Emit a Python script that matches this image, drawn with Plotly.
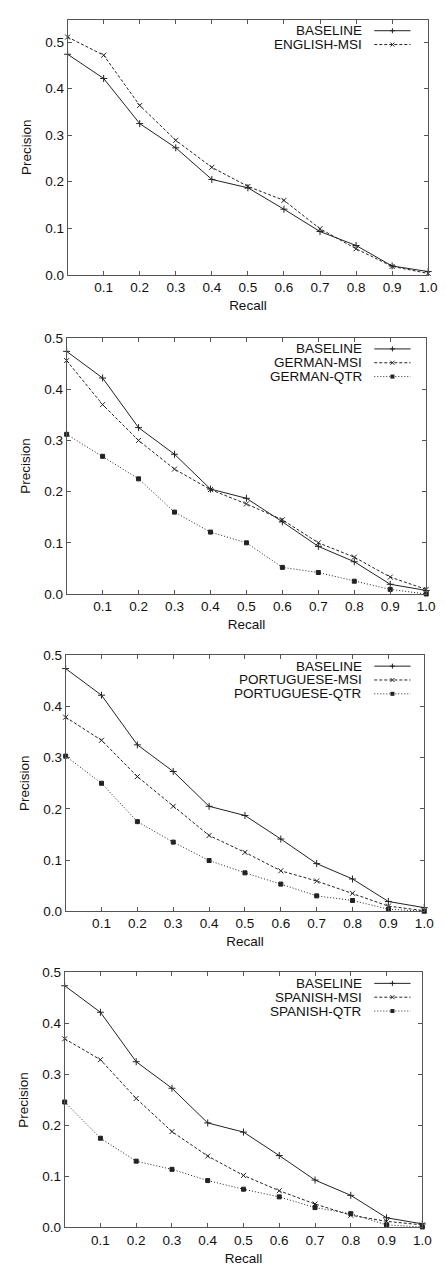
import plotly.graph_objects as go

recall = [0.0, 0.1, 0.2, 0.3, 0.4, 0.5, 0.6, 0.7, 0.8, 0.9, 1.0]
baseline = [0.474, 0.422, 0.325, 0.273, 0.205, 0.187, 0.141, 0.093, 0.063, 0.019, 0.007]
english_msi = [0.511, 0.472, 0.364, 0.289, 0.231, 0.190, 0.160, 0.099, 0.056, 0.018, 0.003]
german_msi = [0.456, 0.370, 0.300, 0.244, 0.204, 0.176, 0.145, 0.100, 0.072, 0.033, 0.009]
german_qtr = [0.312, 0.269, 0.225, 0.160, 0.121, 0.100, 0.052, 0.042, 0.025, 0.009, 0.000]
portuguese_msi = [0.379, 0.334, 0.263, 0.205, 0.148, 0.115, 0.079, 0.059, 0.035, 0.010, 0.001]
portuguese_qtr = [0.303, 0.250, 0.175, 0.135, 0.099, 0.075, 0.053, 0.030, 0.021, 0.004, 0.000]
spanish_msi = [0.370, 0.329, 0.253, 0.188, 0.140, 0.102, 0.072, 0.046, 0.024, 0.012, 0.005]
spanish_qtr = [0.246, 0.175, 0.130, 0.114, 0.092, 0.075, 0.060, 0.039, 0.027, 0.005, 0.001]

x_ticks = [0.1, 0.2, 0.3, 0.4, 0.5, 0.6, 0.7, 0.8, 0.9, 1.0]
y_ticks = [0.0, 0.1, 0.2, 0.3, 0.4, 0.5]

panels = [
    {"series": [("BASELINE", baseline), ("ENGLISH-MSI", english_msi)], "ymax": 0.548},
    {"series": [("BASELINE", baseline), ("GERMAN-MSI", german_msi), ("GERMAN-QTR", german_qtr)], "ymax": 0.5},
    {"series": [("BASELINE", baseline), ("PORTUGUESE-MSI", portuguese_msi), ("PORTUGUESE-QTR", portuguese_qtr)], "ymax": 0.5},
    {"series": [("BASELINE", baseline), ("SPANISH-MSI", spanish_msi), ("SPANISH-QTR", spanish_qtr)], "ymax": 0.5},
]

W, H = 446, 1274
# pixel boxes (left, right, top, bottom)
boxes = [(69, 437, 13, 271), (68, 435, 335, 594), (67, 433, 656, 915), (66, 431, 977, 1235)]

styles = [
    dict(dash="solid", symbol="cross-thin-open", size=5),
    dict(dash="3px,2px", symbol="x-thin-open", size=5),
    dict(dash="1px,2px", symbol="square", size=4),
]

FONT = "Liberation Sans, Arial, sans-serif"
INK = "#222222"
AXIS = "#555555"
FS = 13.5

fig = go.Figure()
layout = dict(width=W, height=H, margin=dict(l=0, r=0, t=0, b=0),
              paper_bgcolor="white", plot_bgcolor="white", showlegend=False,
              font=dict(family=FONT, size=FS, color="#111111"))
shapes = []
annotations = []

for i, p in enumerate(panels):
    n = "" if i == 0 else str(i + 1)
    xa, ya = "x" + n, "y" + n
    l, r, t, b = boxes[i]
    for j, (name, vals) in enumerate(p["series"]):
        st = styles[j]
        fig.add_trace(go.Scatter(
            x=recall, y=vals, name=name, xaxis=xa, yaxis=ya, mode="lines+markers",
            line=dict(color=INK, width=1, dash=st["dash"]),
            marker=dict(symbol=st["symbol"], size=st["size"], color=INK,
                        line=dict(color=INK, width=1)),
            cliponaxis=False))
        # legend entry
        yd = 1 - (11 + 14 * j) / (b - t)
        annotations.append(dict(xref=xa + " domain", yref=ya + " domain",
                                x=(372 - l) / (r - l), y=yd, text=name, showarrow=False,
                                xanchor="right", yanchor="middle",
                                font=dict(family=FONT, size=FS, color="#111111")))
        x0 = (382 - l) / (r - l)
        x1 = (419 - l) / (r - l)
        shapes.append(dict(type="line", xref=xa + " domain", yref=ya + " domain",
                           x0=x0, x1=x1, y0=yd, y1=yd,
                           line=dict(color=INK, width=1, dash=st["dash"])))
        xm = (x0 + x1) / 2
        if j == 0:
            shapes.append(dict(type="line", xref=xa + " domain", yref=ya + " domain",
                               xsizemode="pixel", xanchor=xm, x0=-2.5, x1=2.5, y0=yd, y1=yd,
                               line=dict(color=INK, width=1)))
            shapes.append(dict(type="line", xref=xa + " domain", yref=ya + " domain",
                               xsizemode="pixel", ysizemode="pixel", xanchor=xm, yanchor=yd,
                               x0=0, x1=0, y0=-2.5, y1=2.5, line=dict(color=INK, width=1)))
        elif j == 1:
            for s in (1, -1):
                shapes.append(dict(type="line", xref=xa + " domain", yref=ya + " domain",
                                   xsizemode="pixel", ysizemode="pixel", xanchor=xm, yanchor=yd,
                                   x0=-2, x1=2, y0=-2 * s, y1=2 * s,
                                   line=dict(color=INK, width=1)))
        else:
            shapes.append(dict(type="rect", xref=xa + " domain", yref=ya + " domain",
                               xsizemode="pixel", ysizemode="pixel", xanchor=xm, yanchor=yd,
                               x0=-2, x1=2, y0=-2, y1=2, fillcolor=INK,
                               line=dict(color=INK, width=0)))

    axis_common = dict(showline=True, linecolor=AXIS, linewidth=1, mirror="allticks",
                       ticks="inside", ticklen=4, tickcolor=AXIS, showgrid=False,
                       zeroline=False, tickfont=dict(family=FONT, size=FS, color="#111111"))
    layout["xaxis" + n] = dict(axis_common, domain=[l / W, r / W], anchor=ya,
                               range=[0, 1], tickvals=x_ticks, tickformat=".1f",
                               title=dict(text="Recall", standoff=6,
                                          font=dict(family=FONT, size=FS)))
    layout["yaxis" + n] = dict(axis_common, domain=[1 - b / H, 1 - t / H], anchor=xa,
                               range=[0, p["ymax"]], tickvals=y_ticks, tickformat=".1f",
                               title=dict(text="Precision", standoff=10,
                                          font=dict(family=FONT, size=FS)))

layout["shapes"] = shapes
layout["annotations"] = annotations
fig.update_layout(**layout)
fig.write_html("out.html", config={"displayModeBar": False},
               post_script="document.body.style.margin='0';document.body.style.overflow='hidden';")
